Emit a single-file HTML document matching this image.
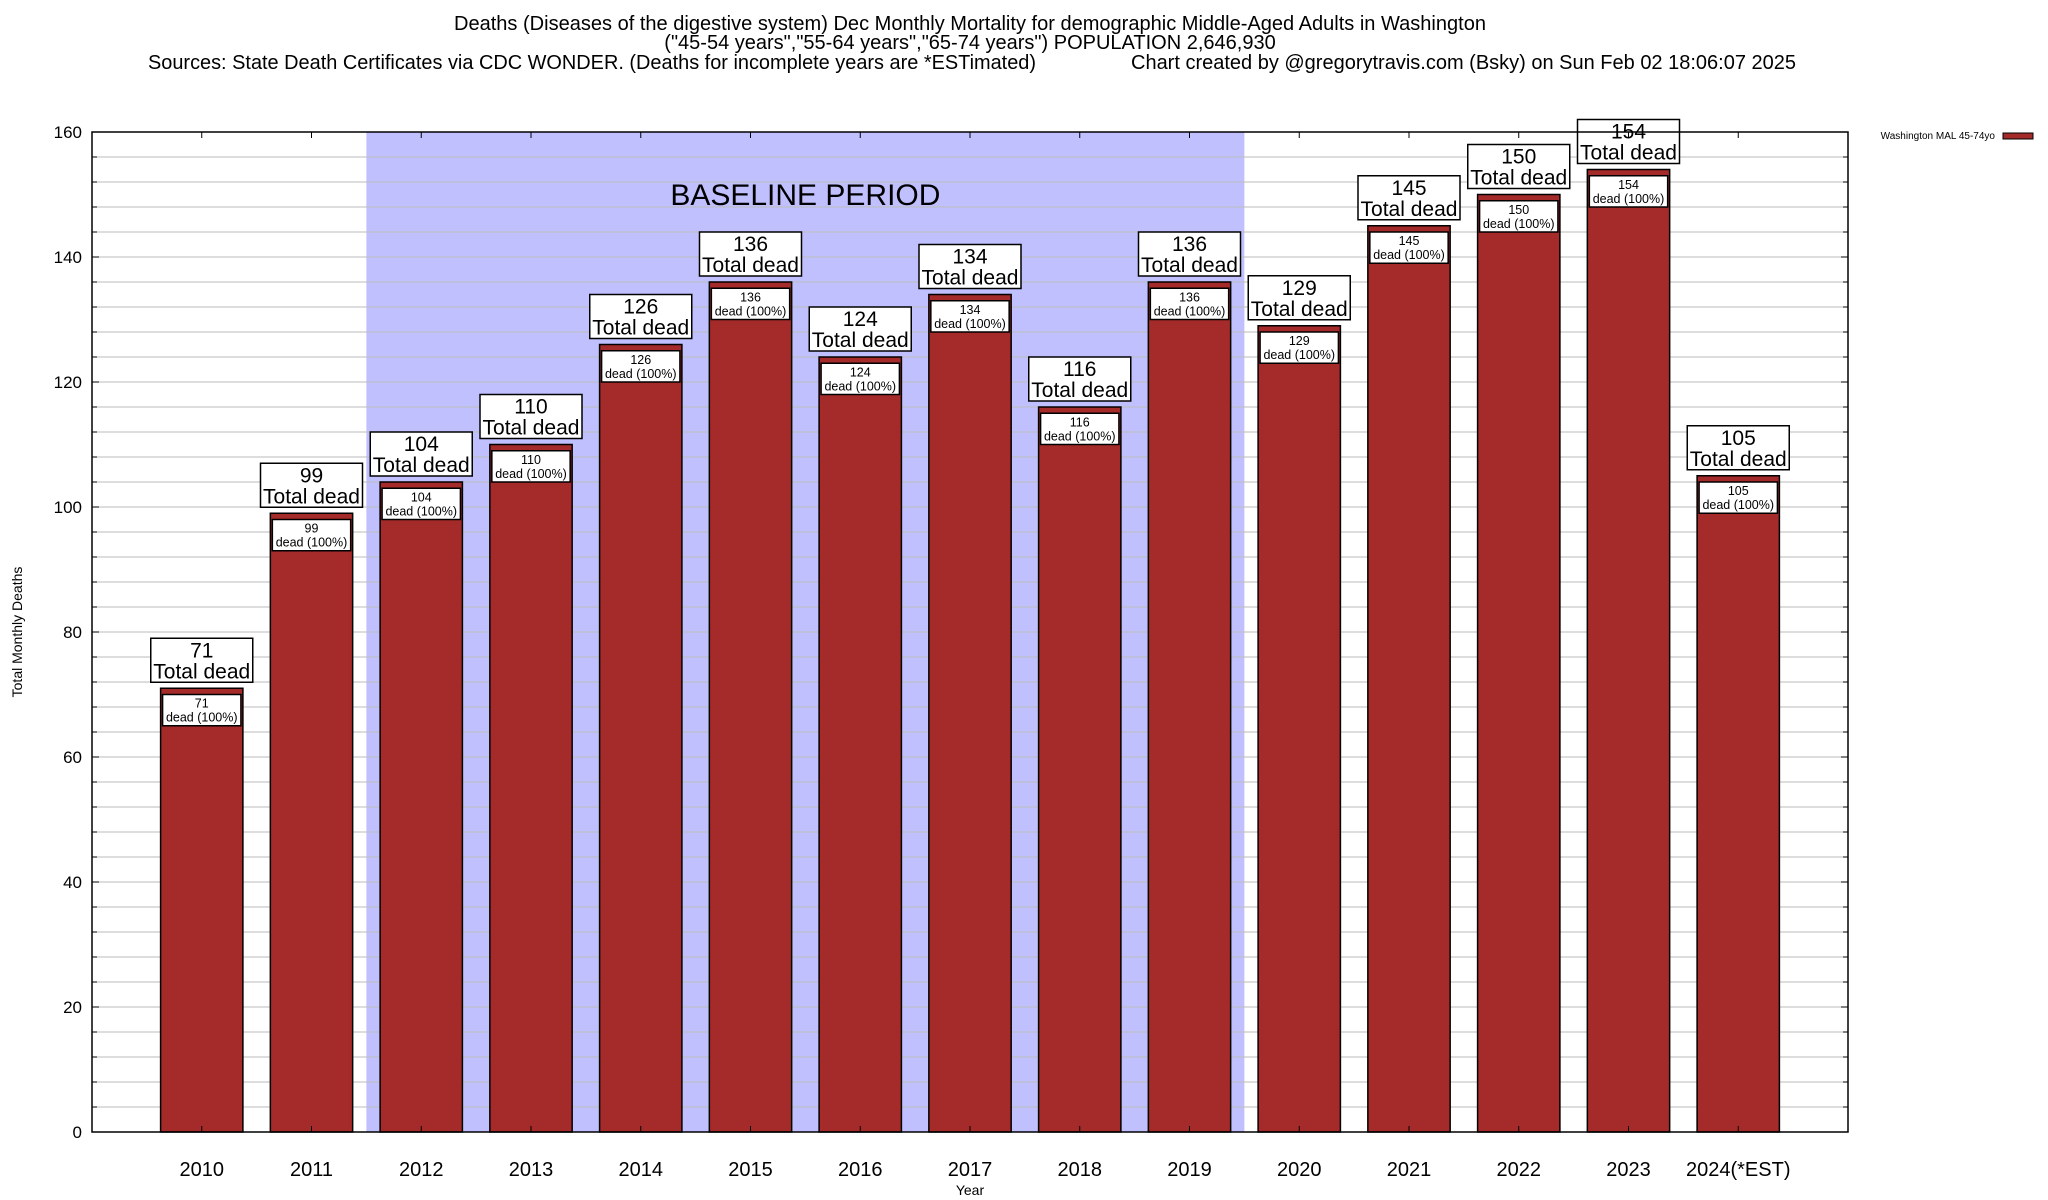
<!DOCTYPE html>
<html><head><meta charset="utf-8">
<style>
html,body{margin:0;padding:0;background:#fff;}
svg{display:block;font-family:"Liberation Sans",sans-serif;}
</style></head>
<body>
<svg id="chart" width="2048" height="1200" viewBox="0 0 2048 1200" xmlns="http://www.w3.org/2000/svg">
<rect x="0" y="0" width="2048" height="1200" fill="#fff"/>
<g font-size="20" fill="#000">
<text x="970" y="30" text-anchor="middle" textLength="1032" lengthAdjust="spacingAndGlyphs">Deaths (Diseases of the digestive system) Dec Monthly Mortality for demographic Middle-Aged Adults in Washington</text>
<text x="970" y="49" text-anchor="middle">("45-54 years","55-64 years","65-74 years") POPULATION 2,646,930</text>
<text x="148" y="69" textLength="888" lengthAdjust="spacingAndGlyphs">Sources: State Death Certificates via CDC WONDER. (Deaths for incomplete years are *ESTimated)</text>
<text x="1131" y="69" textLength="665" lengthAdjust="spacingAndGlyphs">Chart created by @gregorytravis.com (Bsky) on Sun Feb 02 18:06:07 2025</text>
</g>
<g id="shade"></g>
<g id="grid"></g>
<g id="bars"></g>
<g id="axes"></g>
<text x="22" y="632" font-size="14" text-anchor="middle" transform="rotate(-90 22 632)">Total Monthly Deaths</text>
<text x="970" y="1195" font-size="14" text-anchor="middle">Year</text>
<g>
<text x="1995" y="139" font-size="10" text-anchor="end">Washington MAL 45-74yo</text>
<rect x="2003" y="133" width="30" height="6" fill="#a52a2a" stroke="#000" stroke-width="1"/>
</g>
</svg>
<script>
const categories = ["2010","2011","2012","2013","2014","2015","2016","2017","2018","2019","2020","2021","2022","2023","2024(*EST)"];
const deaths = [71,99,104,110,126,136,124,134,116,136,129,145,150,154,105];
const yTicks = [0,20,40,60,80,100,120,140,160];
const baselineStart = 2;
const baselineEnd = 9;
const baselineLabel = "BASELINE PERIOD";

const NS = "http://www.w3.org/2000/svg";
const L = 92, R = 1848, T = 132, B = 1132;
const yMin = 0, yMax = 160;
const slot = (R - L) / (categories.length + 1);
function xs(i){ return L + (i + 1) * slot; }
function ys(v){ return B - (v - yMin) / (yMax - yMin) * (B - T); }
function mk(tag, attrs, parent){
  const e = document.createElementNS(NS, tag);
  for (const k in attrs) e.setAttribute(k, attrs[k]);
  parent.appendChild(e);
  return e;
}
const grid = document.getElementById('grid');
const shade = document.getElementById('shade');
const bars = document.getElementById('bars');
const axes = document.getElementById('axes');

const sx0 = xs(baselineStart - 0.5), sx1 = xs(baselineEnd + 0.5);
const sr = mk('rect', {x:sx0, y:T, width:sx1 - sx0, height:B - T, fill:'#c0c0ff'}, shade);



for (let v = yMin; v <= yMax; v += 4) {
  const y = ys(v);
  if (v > yMin && v < yMax) {
    const g = mk('line', {x1:L, x2:R, y1:y, y2:y, stroke:'#bbbbbb', 'stroke-width':1}, grid);
    
    
  }
  const major = v % 20 === 0;
  mk('line', {x1:L, x2:L + (major?7:5), y1:y, y2:y, stroke:'#000'}, axes);
  mk('line', {x1:R, x2:R - (major?7:5), y1:y, y2:y, stroke:'#000'}, axes);
}

const bl = mk('text', {x:(sx0 + sx1) / 2, y:205, 'font-size':30, 'text-anchor':'middle'}, bars);
bl.textContent = baselineLabel;



yTicks.forEach(v => {
  const t = mk('text', {x:82, y:ys(v) + 6, 'font-size':17, 'text-anchor':'end'}, axes);
  t.textContent = v;
  
  
});

const bw = slot * 0.75;
categories.forEach((c, i) => {
  const v = deaths[i];
  const cx = xs(i);
  const g = mk('g', {}, bars);
  
  
  mk('rect', {x:cx - bw/2, y:ys(v), width:bw, height:B - ys(v), fill:'#a52a2a', stroke:'#000', 'stroke-width':1.5}, g);
  const by0 = ys(v - 1), by1 = ys(v - 6);
  mk('rect', {x:cx - bw/2 + 2, y:by0, width:bw - 4, height:by1 - by0, fill:'#fff', stroke:'#000', 'stroke-width':1.5}, g);
  const t1 = mk('text', {x:cx, y:by0 + 13, 'font-size':12.5, 'text-anchor':'middle'}, g);
  t1.textContent = v;
  const t2 = mk('text', {x:cx, y:by0 + 27, 'font-size':12.5, 'text-anchor':'middle'}, g);
  t2.textContent = 'dead (100%)';
  const ub = ys(v) - 6, uh = 44, uw = 102;
  const lb = mk('rect', {x:cx - uw/2, y:ub - uh, width:uw, height:uh, fill:'#fff', stroke:'#000', 'stroke-width':1.5}, g);
  
  
  const u1 = mk('text', {x:cx, y:ub - uh + 19, 'font-size':21, 'text-anchor':'middle'}, g);
  u1.textContent = v;
  const u2 = mk('text', {x:cx, y:ub - 4, 'font-size':21, 'text-anchor':'middle'}, g);
  u2.textContent = 'Total dead';
  mk('line', {x1:cx, x2:cx, y1:T, y2:T + 6, stroke:'#000'}, axes);
  mk('line', {x1:cx, x2:cx, y1:B, y2:B - 6, stroke:'#000'}, axes);
  const xl = mk('text', {x:cx, y:1176, 'font-size':20, 'text-anchor':'middle'}, axes);
  xl.textContent = c;
  
  
});

const frame = mk('rect', {x:L, y:T, width:R - L, height:B - T, fill:'none', stroke:'#000', 'stroke-width':1.5}, axes);


</script>
</body></html>
